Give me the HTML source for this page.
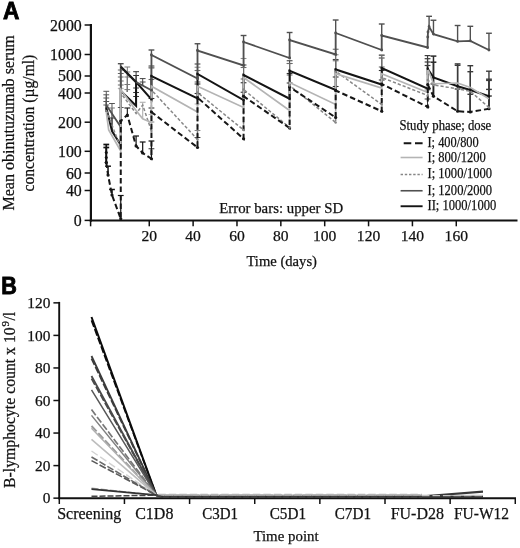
<!DOCTYPE html>
<html><head><meta charset="utf-8"><title>Figure</title>
<style>html,body{margin:0;padding:0;background:#fff;}body{width:520px;height:548px;overflow:hidden;font-family:"Liberation Serif",serif;}svg{display:block;will-change:transform;opacity:0.999}</style>
</head><body>
<svg width="520" height="548" viewBox="0 0 520 548">
<rect width="520" height="548" fill="#fff"/>
<text x="2.9" y="19.0" font-family='"Liberation Sans", sans-serif' font-size="24.8" font-weight="bold" text-anchor="start" fill="#000" stroke="#000" stroke-width="0.9" textLength="16.4" lengthAdjust="spacingAndGlyphs">A</text>
<text transform="translate(14.0,122.9) rotate(-90)" font-family='"Liberation Serif", serif' font-size="16" text-anchor="middle" fill="#111" stroke="#111" stroke-width="0.25" textLength="175.4" lengthAdjust="spacingAndGlyphs">Mean obinutuzumab serum</text>
<text transform="translate(34.4,123.1) rotate(-90)" font-family='"Liberation Serif", serif' font-size="16" text-anchor="middle" fill="#111" stroke="#111" stroke-width="0.25" textLength="136.8" lengthAdjust="spacingAndGlyphs">concentration (µg/ml)</text>
<line x1="90.89999999999999" y1="24.0" x2="90.89999999999999" y2="221.6" stroke="#111" stroke-width="2.2" stroke-linecap="butt"/>
<line x1="89.8" y1="220.6" x2="517.5" y2="220.6" stroke="#111" stroke-width="2.0" stroke-linecap="butt"/>
<line x1="84.6" y1="25" x2="90.6" y2="25" stroke="#111" stroke-width="1.5" stroke-linecap="butt"/>
<text x="81.8" y="30.6" font-family='"Liberation Serif", serif' font-size="15.9" font-weight="normal" text-anchor="end" fill="#111" stroke="#111" stroke-width="0.25">2000</text>
<line x1="84.6" y1="54.5" x2="90.6" y2="54.5" stroke="#111" stroke-width="1.5" stroke-linecap="butt"/>
<text x="81.8" y="60.1" font-family='"Liberation Serif", serif' font-size="15.9" font-weight="normal" text-anchor="end" fill="#111" stroke="#111" stroke-width="0.25">1000</text>
<line x1="84.6" y1="76" x2="90.6" y2="76" stroke="#111" stroke-width="1.5" stroke-linecap="butt"/>
<text x="81.8" y="80.8" font-family='"Liberation Serif", serif' font-size="15.9" font-weight="normal" text-anchor="end" fill="#111" stroke="#111" stroke-width="0.25">500</text>
<line x1="84.6" y1="93" x2="90.6" y2="93" stroke="#111" stroke-width="1.5" stroke-linecap="butt"/>
<text x="81.8" y="98.6" font-family='"Liberation Serif", serif' font-size="15.9" font-weight="normal" text-anchor="end" fill="#111" stroke="#111" stroke-width="0.25">400</text>
<line x1="84.6" y1="122.2" x2="90.6" y2="122.2" stroke="#111" stroke-width="1.5" stroke-linecap="butt"/>
<text x="81.8" y="127.8" font-family='"Liberation Serif", serif' font-size="15.9" font-weight="normal" text-anchor="end" fill="#111" stroke="#111" stroke-width="0.25">200</text>
<line x1="84.6" y1="151.3" x2="90.6" y2="151.3" stroke="#111" stroke-width="1.5" stroke-linecap="butt"/>
<text x="81.8" y="156.9" font-family='"Liberation Serif", serif' font-size="15.9" font-weight="normal" text-anchor="end" fill="#111" stroke="#111" stroke-width="0.25">100</text>
<line x1="84.6" y1="173" x2="90.6" y2="173" stroke="#111" stroke-width="1.5" stroke-linecap="butt"/>
<text x="81.8" y="178.6" font-family='"Liberation Serif", serif' font-size="15.9" font-weight="normal" text-anchor="end" fill="#111" stroke="#111" stroke-width="0.25">60</text>
<line x1="84.6" y1="190.5" x2="90.6" y2="190.5" stroke="#111" stroke-width="1.5" stroke-linecap="butt"/>
<text x="81.8" y="196.1" font-family='"Liberation Serif", serif' font-size="15.9" font-weight="normal" text-anchor="end" fill="#111" stroke="#111" stroke-width="0.25">40</text>
<line x1="84.6" y1="220.4" x2="90.6" y2="220.4" stroke="#111" stroke-width="1.5" stroke-linecap="butt"/>
<text x="81.8" y="226.0" font-family='"Liberation Serif", serif' font-size="15.9" font-weight="normal" text-anchor="end" fill="#111" stroke="#111" stroke-width="0.25">0</text>
<line x1="90.6" y1="220.6" x2="90.6" y2="226.3" stroke="#111" stroke-width="1.5" stroke-linecap="butt"/>
<line x1="149.26" y1="220.6" x2="149.26" y2="226.3" stroke="#111" stroke-width="1.5" stroke-linecap="butt"/>
<text x="149.26" y="241.2" font-family='"Liberation Serif", serif' font-size="15.6" font-weight="normal" text-anchor="middle" fill="#111" stroke="#111" stroke-width="0.25">20</text>
<line x1="193.12" y1="220.6" x2="193.12" y2="226.3" stroke="#111" stroke-width="1.5" stroke-linecap="butt"/>
<text x="193.12" y="241.2" font-family='"Liberation Serif", serif' font-size="15.6" font-weight="normal" text-anchor="middle" fill="#111" stroke="#111" stroke-width="0.25">40</text>
<line x1="236.98" y1="220.6" x2="236.98" y2="226.3" stroke="#111" stroke-width="1.5" stroke-linecap="butt"/>
<text x="236.98" y="241.2" font-family='"Liberation Serif", serif' font-size="15.6" font-weight="normal" text-anchor="middle" fill="#111" stroke="#111" stroke-width="0.25">60</text>
<line x1="280.84" y1="220.6" x2="280.84" y2="226.3" stroke="#111" stroke-width="1.5" stroke-linecap="butt"/>
<text x="280.84" y="241.2" font-family='"Liberation Serif", serif' font-size="15.6" font-weight="normal" text-anchor="middle" fill="#111" stroke="#111" stroke-width="0.25">80</text>
<line x1="324.7" y1="220.6" x2="324.7" y2="226.3" stroke="#111" stroke-width="1.5" stroke-linecap="butt"/>
<text x="324.7" y="241.2" font-family='"Liberation Serif", serif' font-size="15.6" font-weight="normal" text-anchor="middle" fill="#111" stroke="#111" stroke-width="0.25">100</text>
<line x1="368.56" y1="220.6" x2="368.56" y2="226.3" stroke="#111" stroke-width="1.5" stroke-linecap="butt"/>
<text x="368.56" y="241.2" font-family='"Liberation Serif", serif' font-size="15.6" font-weight="normal" text-anchor="middle" fill="#111" stroke="#111" stroke-width="0.25">120</text>
<line x1="412.42" y1="220.6" x2="412.42" y2="226.3" stroke="#111" stroke-width="1.5" stroke-linecap="butt"/>
<text x="412.42" y="241.2" font-family='"Liberation Serif", serif' font-size="15.6" font-weight="normal" text-anchor="middle" fill="#111" stroke="#111" stroke-width="0.25">140</text>
<line x1="456.28" y1="220.6" x2="456.28" y2="226.3" stroke="#111" stroke-width="1.5" stroke-linecap="butt"/>
<text x="456.28" y="241.2" font-family='"Liberation Serif", serif' font-size="15.6" font-weight="normal" text-anchor="middle" fill="#111" stroke="#111" stroke-width="0.25">160</text>
<text x="219.2" y="212.5" font-family='"Liberation Serif", serif' font-size="15.3" font-weight="normal" text-anchor="start" fill="#111" stroke="#111" stroke-width="0.25" textLength="124" lengthAdjust="spacingAndGlyphs">Error bars: upper SD</text>
<text x="246.4" y="266.0" font-family='"Liberation Serif", serif' font-size="15.3" font-weight="normal" text-anchor="start" fill="#111" stroke="#111" stroke-width="0.25" textLength="70.6" lengthAdjust="spacingAndGlyphs">Time (days)</text>
<line x1="120.75" y1="66.5" x2="120.75" y2="63.7" stroke="#505050" stroke-width="1.4" stroke-linecap="butt"/>
<line x1="117.85" y1="63.7" x2="123.65" y2="63.7" stroke="#505050" stroke-width="1.4" stroke-linecap="butt"/>
<line x1="151.45" y1="55" x2="151.45" y2="50" stroke="#505050" stroke-width="1.4" stroke-linecap="butt"/>
<line x1="148.54999999999998" y1="50" x2="154.35" y2="50" stroke="#505050" stroke-width="1.4" stroke-linecap="butt"/>
<line x1="197.51" y1="50.5" x2="197.51" y2="43.75" stroke="#505050" stroke-width="1.4" stroke-linecap="butt"/>
<line x1="194.60999999999999" y1="43.75" x2="200.41" y2="43.75" stroke="#505050" stroke-width="1.4" stroke-linecap="butt"/>
<line x1="243.56" y1="42" x2="243.56" y2="35.5" stroke="#505050" stroke-width="1.4" stroke-linecap="butt"/>
<line x1="240.66" y1="35.5" x2="246.46" y2="35.5" stroke="#505050" stroke-width="1.4" stroke-linecap="butt"/>
<line x1="289.61" y1="40" x2="289.61" y2="32.5" stroke="#505050" stroke-width="1.4" stroke-linecap="butt"/>
<line x1="286.71000000000004" y1="32.5" x2="292.51" y2="32.5" stroke="#505050" stroke-width="1.4" stroke-linecap="butt"/>
<line x1="335.67" y1="33" x2="335.67" y2="20" stroke="#505050" stroke-width="1.4" stroke-linecap="butt"/>
<line x1="332.77000000000004" y1="20" x2="338.57" y2="20" stroke="#505050" stroke-width="1.4" stroke-linecap="butt"/>
<line x1="381.72" y1="35.5" x2="381.72" y2="24" stroke="#505050" stroke-width="1.4" stroke-linecap="butt"/>
<line x1="378.82000000000005" y1="24" x2="384.62" y2="24" stroke="#505050" stroke-width="1.4" stroke-linecap="butt"/>
<line x1="429.09" y1="26.7" x2="429.09" y2="16.3" stroke="#505050" stroke-width="1.4" stroke-linecap="butt"/>
<line x1="426.19" y1="16.3" x2="431.98999999999995" y2="16.3" stroke="#505050" stroke-width="1.4" stroke-linecap="butt"/>
<line x1="433.47" y1="34.1" x2="433.47" y2="20.25" stroke="#505050" stroke-width="1.4" stroke-linecap="butt"/>
<line x1="430.57000000000005" y1="20.25" x2="436.37" y2="20.25" stroke="#505050" stroke-width="1.4" stroke-linecap="butt"/>
<line x1="457.6" y1="41.4" x2="457.6" y2="25.5" stroke="#505050" stroke-width="1.4" stroke-linecap="butt"/>
<line x1="454.70000000000005" y1="25.5" x2="460.5" y2="25.5" stroke="#505050" stroke-width="1.4" stroke-linecap="butt"/>
<line x1="470.32" y1="40.9" x2="470.32" y2="26.3" stroke="#505050" stroke-width="1.4" stroke-linecap="butt"/>
<line x1="467.42" y1="26.3" x2="473.21999999999997" y2="26.3" stroke="#505050" stroke-width="1.4" stroke-linecap="butt"/>
<line x1="488.96" y1="50" x2="488.96" y2="33.25" stroke="#505050" stroke-width="1.4" stroke-linecap="butt"/>
<line x1="486.06" y1="33.25" x2="491.85999999999996" y2="33.25" stroke="#505050" stroke-width="1.4" stroke-linecap="butt"/>
<line x1="151.45" y1="76" x2="151.45" y2="66" stroke="#444" stroke-width="1.1" stroke-linecap="butt"/>
<line x1="148.54999999999998" y1="66" x2="154.35" y2="66" stroke="#444" stroke-width="1.1" stroke-linecap="butt"/>
<line x1="151.45" y1="86.25" x2="151.45" y2="67.25" stroke="#8c8c8c" stroke-width="1.1" stroke-linecap="butt"/>
<line x1="148.54999999999998" y1="67.25" x2="154.35" y2="67.25" stroke="#8c8c8c" stroke-width="1.1" stroke-linecap="butt"/>
<line x1="151.45" y1="90" x2="151.45" y2="68" stroke="#6a6a6a" stroke-width="1.1" stroke-linecap="butt"/>
<line x1="148.54999999999998" y1="68" x2="154.35" y2="68" stroke="#6a6a6a" stroke-width="1.1" stroke-linecap="butt"/>
<line x1="151.45" y1="90" x2="151.45" y2="79.5" stroke="#6a6a6a" stroke-width="1.1" stroke-linecap="butt"/>
<line x1="148.54999999999998" y1="79.5" x2="154.35" y2="79.5" stroke="#6a6a6a" stroke-width="1.1" stroke-linecap="butt"/>
<line x1="151.45" y1="112" x2="151.45" y2="98.5" stroke="#333" stroke-width="1.1" stroke-linecap="butt"/>
<line x1="148.54999999999998" y1="98.5" x2="154.35" y2="98.5" stroke="#333" stroke-width="1.1" stroke-linecap="butt"/>
<line x1="151.45" y1="112" x2="151.45" y2="108" stroke="#333" stroke-width="1.1" stroke-linecap="butt"/>
<line x1="148.54999999999998" y1="108" x2="154.35" y2="108" stroke="#333" stroke-width="1.1" stroke-linecap="butt"/>
<line x1="151.45" y1="131" x2="151.45" y2="122" stroke="#868686" stroke-width="1.0" stroke-linecap="butt"/>
<line x1="148.54999999999998" y1="122" x2="154.35" y2="122" stroke="#868686" stroke-width="1.0" stroke-linecap="butt"/>
<line x1="151.45" y1="158.75" x2="151.45" y2="148.75" stroke="#333" stroke-width="1.0" stroke-linecap="butt"/>
<line x1="148.54999999999998" y1="148.75" x2="154.35" y2="148.75" stroke="#333" stroke-width="1.0" stroke-linecap="butt"/>
<line x1="151.45" y1="122.5" x2="151.45" y2="114.5" stroke="#b4b4b4" stroke-width="1.0" stroke-linecap="butt"/>
<line x1="148.54999999999998" y1="114.5" x2="154.35" y2="114.5" stroke="#b4b4b4" stroke-width="1.0" stroke-linecap="butt"/>
<line x1="197.51" y1="74" x2="197.51" y2="64" stroke="#444" stroke-width="1.1" stroke-linecap="butt"/>
<line x1="194.60999999999999" y1="64" x2="200.41" y2="64" stroke="#444" stroke-width="1.1" stroke-linecap="butt"/>
<line x1="197.51" y1="86.25" x2="197.51" y2="67.25" stroke="#8c8c8c" stroke-width="1.1" stroke-linecap="butt"/>
<line x1="194.60999999999999" y1="67.25" x2="200.41" y2="67.25" stroke="#8c8c8c" stroke-width="1.1" stroke-linecap="butt"/>
<line x1="197.51" y1="92.5" x2="197.51" y2="70.5" stroke="#6a6a6a" stroke-width="1.1" stroke-linecap="butt"/>
<line x1="194.60999999999999" y1="70.5" x2="200.41" y2="70.5" stroke="#6a6a6a" stroke-width="1.1" stroke-linecap="butt"/>
<line x1="197.51" y1="92.5" x2="197.51" y2="82.0" stroke="#6a6a6a" stroke-width="1.1" stroke-linecap="butt"/>
<line x1="194.60999999999999" y1="82.0" x2="200.41" y2="82.0" stroke="#6a6a6a" stroke-width="1.1" stroke-linecap="butt"/>
<line x1="197.51" y1="97.5" x2="197.51" y2="84.0" stroke="#333" stroke-width="1.1" stroke-linecap="butt"/>
<line x1="194.60999999999999" y1="84.0" x2="200.41" y2="84.0" stroke="#333" stroke-width="1.1" stroke-linecap="butt"/>
<line x1="197.51" y1="97.5" x2="197.51" y2="93.5" stroke="#333" stroke-width="1.1" stroke-linecap="butt"/>
<line x1="194.60999999999999" y1="93.5" x2="200.41" y2="93.5" stroke="#333" stroke-width="1.1" stroke-linecap="butt"/>
<line x1="197.51" y1="139.5" x2="197.51" y2="130.5" stroke="#868686" stroke-width="1.0" stroke-linecap="butt"/>
<line x1="194.60999999999999" y1="130.5" x2="200.41" y2="130.5" stroke="#868686" stroke-width="1.0" stroke-linecap="butt"/>
<line x1="197.51" y1="147.5" x2="197.51" y2="137.5" stroke="#333" stroke-width="1.0" stroke-linecap="butt"/>
<line x1="194.60999999999999" y1="137.5" x2="200.41" y2="137.5" stroke="#333" stroke-width="1.0" stroke-linecap="butt"/>
<line x1="197.51" y1="112" x2="197.51" y2="104" stroke="#b4b4b4" stroke-width="1.0" stroke-linecap="butt"/>
<line x1="194.60999999999999" y1="104" x2="200.41" y2="104" stroke="#b4b4b4" stroke-width="1.0" stroke-linecap="butt"/>
<line x1="243.56" y1="75" x2="243.56" y2="65" stroke="#444" stroke-width="1.1" stroke-linecap="butt"/>
<line x1="240.66" y1="65" x2="246.46" y2="65" stroke="#444" stroke-width="1.1" stroke-linecap="butt"/>
<line x1="243.56" y1="77.5" x2="243.56" y2="58.5" stroke="#8c8c8c" stroke-width="1.1" stroke-linecap="butt"/>
<line x1="240.66" y1="58.5" x2="246.46" y2="58.5" stroke="#8c8c8c" stroke-width="1.1" stroke-linecap="butt"/>
<line x1="243.56" y1="89.5" x2="243.56" y2="67.5" stroke="#6a6a6a" stroke-width="1.1" stroke-linecap="butt"/>
<line x1="240.66" y1="67.5" x2="246.46" y2="67.5" stroke="#6a6a6a" stroke-width="1.1" stroke-linecap="butt"/>
<line x1="243.56" y1="89.5" x2="243.56" y2="79.0" stroke="#6a6a6a" stroke-width="1.1" stroke-linecap="butt"/>
<line x1="240.66" y1="79.0" x2="246.46" y2="79.0" stroke="#6a6a6a" stroke-width="1.1" stroke-linecap="butt"/>
<line x1="243.56" y1="96.25" x2="243.56" y2="82.75" stroke="#333" stroke-width="1.1" stroke-linecap="butt"/>
<line x1="240.66" y1="82.75" x2="246.46" y2="82.75" stroke="#333" stroke-width="1.1" stroke-linecap="butt"/>
<line x1="243.56" y1="96.25" x2="243.56" y2="92.25" stroke="#333" stroke-width="1.1" stroke-linecap="butt"/>
<line x1="240.66" y1="92.25" x2="246.46" y2="92.25" stroke="#333" stroke-width="1.1" stroke-linecap="butt"/>
<line x1="289.61" y1="70.75" x2="289.61" y2="60.75" stroke="#444" stroke-width="1.1" stroke-linecap="butt"/>
<line x1="286.71000000000004" y1="60.75" x2="292.51" y2="60.75" stroke="#444" stroke-width="1.1" stroke-linecap="butt"/>
<line x1="289.61" y1="82.5" x2="289.61" y2="63.5" stroke="#8c8c8c" stroke-width="1.1" stroke-linecap="butt"/>
<line x1="286.71000000000004" y1="63.5" x2="292.51" y2="63.5" stroke="#8c8c8c" stroke-width="1.1" stroke-linecap="butt"/>
<line x1="289.61" y1="85.5" x2="289.61" y2="63.5" stroke="#6a6a6a" stroke-width="1.1" stroke-linecap="butt"/>
<line x1="286.71000000000004" y1="63.5" x2="292.51" y2="63.5" stroke="#6a6a6a" stroke-width="1.1" stroke-linecap="butt"/>
<line x1="289.61" y1="85.5" x2="289.61" y2="75.0" stroke="#6a6a6a" stroke-width="1.1" stroke-linecap="butt"/>
<line x1="286.71000000000004" y1="75.0" x2="292.51" y2="75.0" stroke="#6a6a6a" stroke-width="1.1" stroke-linecap="butt"/>
<line x1="289.61" y1="87" x2="289.61" y2="73.5" stroke="#333" stroke-width="1.1" stroke-linecap="butt"/>
<line x1="286.71000000000004" y1="73.5" x2="292.51" y2="73.5" stroke="#333" stroke-width="1.1" stroke-linecap="butt"/>
<line x1="289.61" y1="87" x2="289.61" y2="83" stroke="#333" stroke-width="1.1" stroke-linecap="butt"/>
<line x1="286.71000000000004" y1="83" x2="292.51" y2="83" stroke="#333" stroke-width="1.1" stroke-linecap="butt"/>
<line x1="335.67" y1="69.5" x2="335.67" y2="59.5" stroke="#444" stroke-width="1.1" stroke-linecap="butt"/>
<line x1="332.77000000000004" y1="59.5" x2="338.57" y2="59.5" stroke="#444" stroke-width="1.1" stroke-linecap="butt"/>
<line x1="335.67" y1="73.75" x2="335.67" y2="54.75" stroke="#8c8c8c" stroke-width="1.1" stroke-linecap="butt"/>
<line x1="332.77000000000004" y1="54.75" x2="338.57" y2="54.75" stroke="#8c8c8c" stroke-width="1.1" stroke-linecap="butt"/>
<line x1="335.67" y1="71.25" x2="335.67" y2="49.25" stroke="#6a6a6a" stroke-width="1.1" stroke-linecap="butt"/>
<line x1="332.77000000000004" y1="49.25" x2="338.57" y2="49.25" stroke="#6a6a6a" stroke-width="1.1" stroke-linecap="butt"/>
<line x1="335.67" y1="71.25" x2="335.67" y2="60.75" stroke="#6a6a6a" stroke-width="1.1" stroke-linecap="butt"/>
<line x1="332.77000000000004" y1="60.75" x2="338.57" y2="60.75" stroke="#6a6a6a" stroke-width="1.1" stroke-linecap="butt"/>
<line x1="335.67" y1="90.5" x2="335.67" y2="77.0" stroke="#333" stroke-width="1.1" stroke-linecap="butt"/>
<line x1="332.77000000000004" y1="77.0" x2="338.57" y2="77.0" stroke="#333" stroke-width="1.1" stroke-linecap="butt"/>
<line x1="335.67" y1="90.5" x2="335.67" y2="86.5" stroke="#333" stroke-width="1.1" stroke-linecap="butt"/>
<line x1="332.77000000000004" y1="86.5" x2="338.57" y2="86.5" stroke="#333" stroke-width="1.1" stroke-linecap="butt"/>
<line x1="381.72" y1="68" x2="381.72" y2="58" stroke="#444" stroke-width="1.1" stroke-linecap="butt"/>
<line x1="378.82000000000005" y1="58" x2="384.62" y2="58" stroke="#444" stroke-width="1.1" stroke-linecap="butt"/>
<line x1="381.72" y1="73.75" x2="381.72" y2="54.75" stroke="#8c8c8c" stroke-width="1.1" stroke-linecap="butt"/>
<line x1="378.82000000000005" y1="54.75" x2="384.62" y2="54.75" stroke="#8c8c8c" stroke-width="1.1" stroke-linecap="butt"/>
<line x1="381.72" y1="77.5" x2="381.72" y2="55.5" stroke="#6a6a6a" stroke-width="1.1" stroke-linecap="butt"/>
<line x1="378.82000000000005" y1="55.5" x2="384.62" y2="55.5" stroke="#6a6a6a" stroke-width="1.1" stroke-linecap="butt"/>
<line x1="381.72" y1="77.5" x2="381.72" y2="67.0" stroke="#6a6a6a" stroke-width="1.1" stroke-linecap="butt"/>
<line x1="378.82000000000005" y1="67.0" x2="384.62" y2="67.0" stroke="#6a6a6a" stroke-width="1.1" stroke-linecap="butt"/>
<line x1="381.72" y1="84" x2="381.72" y2="70.5" stroke="#333" stroke-width="1.1" stroke-linecap="butt"/>
<line x1="378.82000000000005" y1="70.5" x2="384.62" y2="70.5" stroke="#333" stroke-width="1.1" stroke-linecap="butt"/>
<line x1="381.72" y1="84" x2="381.72" y2="80" stroke="#333" stroke-width="1.1" stroke-linecap="butt"/>
<line x1="378.82000000000005" y1="80" x2="384.62" y2="80" stroke="#333" stroke-width="1.1" stroke-linecap="butt"/>
<line x1="106.28" y1="112" x2="106.28" y2="91.3" stroke="#555" stroke-width="1.0" stroke-linecap="butt"/>
<line x1="103.38" y1="91.3" x2="109.18" y2="91.3" stroke="#555" stroke-width="1.0" stroke-linecap="butt"/>
<line x1="106.28" y1="112" x2="106.28" y2="94.8" stroke="#555" stroke-width="1.0" stroke-linecap="butt"/>
<line x1="103.38" y1="94.8" x2="109.18" y2="94.8" stroke="#555" stroke-width="1.0" stroke-linecap="butt"/>
<line x1="106.28" y1="112" x2="106.28" y2="98" stroke="#555" stroke-width="1.0" stroke-linecap="butt"/>
<line x1="103.38" y1="98" x2="109.18" y2="98" stroke="#555" stroke-width="1.0" stroke-linecap="butt"/>
<line x1="106.28" y1="112" x2="106.28" y2="101.5" stroke="#555" stroke-width="1.0" stroke-linecap="butt"/>
<line x1="103.38" y1="101.5" x2="109.18" y2="101.5" stroke="#555" stroke-width="1.0" stroke-linecap="butt"/>
<line x1="106.28" y1="112" x2="106.28" y2="105" stroke="#555" stroke-width="1.0" stroke-linecap="butt"/>
<line x1="103.38" y1="105" x2="109.18" y2="105" stroke="#555" stroke-width="1.0" stroke-linecap="butt"/>
<line x1="106.28" y1="162.5" x2="106.28" y2="144.5" stroke="#111" stroke-width="1.7" stroke-linecap="butt"/>
<line x1="103.38" y1="144.5" x2="109.18" y2="144.5" stroke="#111" stroke-width="1.7" stroke-linecap="butt"/>
<line x1="106.28" y1="162.5" x2="106.28" y2="147.5" stroke="#111" stroke-width="1.7" stroke-linecap="butt"/>
<line x1="103.38" y1="147.5" x2="109.18" y2="147.5" stroke="#111" stroke-width="1.7" stroke-linecap="butt"/>
<circle cx="106.28" cy="152.5" r="1.5" fill="#111"/>
<circle cx="106.28" cy="157.5" r="1.5" fill="#111"/>
<circle cx="106.28" cy="162.5" r="1.5" fill="#111"/>
<line x1="111.98" y1="131" x2="111.98" y2="103.5" stroke="#555" stroke-width="1.0" stroke-linecap="butt"/>
<line x1="109.08" y1="103.5" x2="114.88000000000001" y2="103.5" stroke="#555" stroke-width="1.0" stroke-linecap="butt"/>
<line x1="111.98" y1="131" x2="111.98" y2="108" stroke="#777" stroke-width="1.0" stroke-linecap="butt"/>
<line x1="109.08" y1="108" x2="114.88000000000001" y2="108" stroke="#777" stroke-width="1.0" stroke-linecap="butt"/>
<line x1="111.98" y1="131" x2="111.98" y2="118" stroke="#333" stroke-width="1.0" stroke-linecap="butt"/>
<line x1="109.08" y1="118" x2="114.88000000000001" y2="118" stroke="#333" stroke-width="1.0" stroke-linecap="butt"/>
<line x1="108.03" y1="175" x2="108.03" y2="166.2" stroke="#111" stroke-width="1.5" stroke-linecap="butt"/>
<line x1="105.13" y1="166.2" x2="110.93" y2="166.2" stroke="#111" stroke-width="1.5" stroke-linecap="butt"/>
<line x1="111.98" y1="195" x2="111.98" y2="189.5" stroke="#111" stroke-width="1.5" stroke-linecap="butt"/>
<line x1="109.08" y1="189.5" x2="114.88000000000001" y2="189.5" stroke="#111" stroke-width="1.5" stroke-linecap="butt"/>
<line x1="120.75" y1="218.75" x2="120.75" y2="195.5" stroke="#111" stroke-width="1.2" stroke-linecap="butt"/>
<line x1="117.85" y1="195.5" x2="123.65" y2="195.5" stroke="#111" stroke-width="1.2" stroke-linecap="butt"/>
<line x1="120.75" y1="93" x2="120.75" y2="70" stroke="#666" stroke-width="1.0" stroke-linecap="butt"/>
<line x1="117.85" y1="70" x2="123.65" y2="70" stroke="#666" stroke-width="1.0" stroke-linecap="butt"/>
<line x1="120.75" y1="93" x2="120.75" y2="73.5" stroke="#666" stroke-width="1.0" stroke-linecap="butt"/>
<line x1="117.85" y1="73.5" x2="123.65" y2="73.5" stroke="#666" stroke-width="1.0" stroke-linecap="butt"/>
<line x1="120.75" y1="93" x2="120.75" y2="77" stroke="#666" stroke-width="1.0" stroke-linecap="butt"/>
<line x1="117.85" y1="77" x2="123.65" y2="77" stroke="#666" stroke-width="1.0" stroke-linecap="butt"/>
<line x1="120.75" y1="93" x2="120.75" y2="81" stroke="#666" stroke-width="1.0" stroke-linecap="butt"/>
<line x1="117.85" y1="81" x2="123.65" y2="81" stroke="#666" stroke-width="1.0" stroke-linecap="butt"/>
<line x1="120.75" y1="93" x2="120.75" y2="85" stroke="#666" stroke-width="1.0" stroke-linecap="butt"/>
<line x1="117.85" y1="85" x2="123.65" y2="85" stroke="#666" stroke-width="1.0" stroke-linecap="butt"/>
<line x1="120.75" y1="148" x2="120.75" y2="88.5" stroke="#b4b4b4" stroke-width="1.4" stroke-linecap="butt"/>
<line x1="117.85" y1="88.5" x2="123.65" y2="88.5" stroke="#b4b4b4" stroke-width="1.4" stroke-linecap="butt"/>
<line x1="120.75" y1="121" x2="120.75" y2="107.5" stroke="#555" stroke-width="1.0" stroke-linecap="butt"/>
<line x1="117.85" y1="107.5" x2="123.65" y2="107.5" stroke="#555" stroke-width="1.0" stroke-linecap="butt"/>
<line x1="127.33" y1="92" x2="127.33" y2="67" stroke="#777" stroke-width="1.0" stroke-linecap="butt"/>
<line x1="124.42999999999999" y1="67" x2="130.23" y2="67" stroke="#777" stroke-width="1.0" stroke-linecap="butt"/>
<line x1="127.33" y1="92" x2="127.33" y2="72" stroke="#777" stroke-width="1.0" stroke-linecap="butt"/>
<line x1="124.42999999999999" y1="72" x2="130.23" y2="72" stroke="#777" stroke-width="1.0" stroke-linecap="butt"/>
<line x1="127.33" y1="92" x2="127.33" y2="77" stroke="#777" stroke-width="1.0" stroke-linecap="butt"/>
<line x1="124.42999999999999" y1="77" x2="130.23" y2="77" stroke="#777" stroke-width="1.0" stroke-linecap="butt"/>
<line x1="127.33" y1="92" x2="127.33" y2="84.5" stroke="#777" stroke-width="1.0" stroke-linecap="butt"/>
<line x1="124.42999999999999" y1="84.5" x2="130.23" y2="84.5" stroke="#777" stroke-width="1.0" stroke-linecap="butt"/>
<line x1="127.33" y1="92" x2="127.33" y2="89.6" stroke="#777" stroke-width="1.0" stroke-linecap="butt"/>
<line x1="124.42999999999999" y1="89.6" x2="130.23" y2="89.6" stroke="#777" stroke-width="1.0" stroke-linecap="butt"/>
<line x1="127.33" y1="115" x2="127.33" y2="108" stroke="#111" stroke-width="1.1" stroke-linecap="butt"/>
<line x1="124.42999999999999" y1="108" x2="130.23" y2="108" stroke="#111" stroke-width="1.1" stroke-linecap="butt"/>
<line x1="136.1" y1="105" x2="136.1" y2="71.7" stroke="#333" stroke-width="1.0" stroke-linecap="butt"/>
<line x1="133.2" y1="71.7" x2="139.0" y2="71.7" stroke="#333" stroke-width="1.0" stroke-linecap="butt"/>
<line x1="136.1" y1="105" x2="136.1" y2="75.5" stroke="#333" stroke-width="1.0" stroke-linecap="butt"/>
<line x1="133.2" y1="75.5" x2="139.0" y2="75.5" stroke="#333" stroke-width="1.0" stroke-linecap="butt"/>
<line x1="136.1" y1="105" x2="136.1" y2="88" stroke="#333" stroke-width="1.0" stroke-linecap="butt"/>
<line x1="133.2" y1="88" x2="139.0" y2="88" stroke="#333" stroke-width="1.0" stroke-linecap="butt"/>
<line x1="136.1" y1="105" x2="136.1" y2="92.5" stroke="#333" stroke-width="1.0" stroke-linecap="butt"/>
<line x1="133.2" y1="92.5" x2="139.0" y2="92.5" stroke="#333" stroke-width="1.0" stroke-linecap="butt"/>
<line x1="136.1" y1="105" x2="136.1" y2="96.5" stroke="#333" stroke-width="1.0" stroke-linecap="butt"/>
<line x1="133.2" y1="96.5" x2="139.0" y2="96.5" stroke="#333" stroke-width="1.0" stroke-linecap="butt"/>
<line x1="136.1" y1="146" x2="136.1" y2="136" stroke="#111" stroke-width="1.2" stroke-linecap="butt"/>
<line x1="133.2" y1="136" x2="139.0" y2="136" stroke="#111" stroke-width="1.2" stroke-linecap="butt"/>
<line x1="142.68" y1="86" x2="142.68" y2="78.6" stroke="#444" stroke-width="1.0" stroke-linecap="butt"/>
<line x1="139.78" y1="78.6" x2="145.58" y2="78.6" stroke="#444" stroke-width="1.0" stroke-linecap="butt"/>
<line x1="142.68" y1="86" x2="142.68" y2="82" stroke="#444" stroke-width="1.0" stroke-linecap="butt"/>
<line x1="139.78" y1="82" x2="145.58" y2="82" stroke="#444" stroke-width="1.0" stroke-linecap="butt"/>
<line x1="142.68" y1="118.75" x2="142.68" y2="102.3" stroke="#b4b4b4" stroke-width="1.2" stroke-linecap="butt"/>
<line x1="139.78" y1="102.3" x2="145.58" y2="102.3" stroke="#b4b4b4" stroke-width="1.2" stroke-linecap="butt"/>
<line x1="142.68" y1="153" x2="142.68" y2="142" stroke="#111" stroke-width="1.2" stroke-linecap="butt"/>
<line x1="139.78" y1="142" x2="145.58" y2="142" stroke="#111" stroke-width="1.2" stroke-linecap="butt"/>
<line x1="151.45" y1="158.75" x2="151.45" y2="141" stroke="#111" stroke-width="1.2" stroke-linecap="butt"/>
<line x1="148.54999999999998" y1="141" x2="154.35" y2="141" stroke="#111" stroke-width="1.2" stroke-linecap="butt"/>
<line x1="427.55" y1="75" x2="427.55" y2="55.6" stroke="#3c3c3c" stroke-width="1.2" stroke-linecap="butt"/>
<line x1="424.65000000000003" y1="55.6" x2="430.45" y2="55.6" stroke="#3c3c3c" stroke-width="1.2" stroke-linecap="butt"/>
<line x1="427.55" y1="75" x2="427.55" y2="58.7" stroke="#3c3c3c" stroke-width="1.2" stroke-linecap="butt"/>
<line x1="424.65000000000003" y1="58.7" x2="430.45" y2="58.7" stroke="#3c3c3c" stroke-width="1.2" stroke-linecap="butt"/>
<line x1="427.55" y1="75" x2="427.55" y2="62" stroke="#3c3c3c" stroke-width="1.2" stroke-linecap="butt"/>
<line x1="424.65000000000003" y1="62" x2="430.45" y2="62" stroke="#3c3c3c" stroke-width="1.2" stroke-linecap="butt"/>
<line x1="427.55" y1="75" x2="427.55" y2="65.5" stroke="#3c3c3c" stroke-width="1.2" stroke-linecap="butt"/>
<line x1="424.65000000000003" y1="65.5" x2="430.45" y2="65.5" stroke="#3c3c3c" stroke-width="1.2" stroke-linecap="butt"/>
<line x1="427.55" y1="107" x2="427.55" y2="99" stroke="#333" stroke-width="1.0" stroke-linecap="butt"/>
<line x1="424.65000000000003" y1="99" x2="430.45" y2="99" stroke="#333" stroke-width="1.0" stroke-linecap="butt"/>
<line x1="427.55" y1="95.5" x2="427.55" y2="90" stroke="#888" stroke-width="1.0" stroke-linecap="butt"/>
<line x1="424.65000000000003" y1="90" x2="430.45" y2="90" stroke="#888" stroke-width="1.0" stroke-linecap="butt"/>
<line x1="433.47" y1="96.25" x2="433.47" y2="56.1" stroke="#2a2a2a" stroke-width="1.5" stroke-linecap="butt"/>
<line x1="430.57000000000005" y1="56.1" x2="436.37" y2="56.1" stroke="#2a2a2a" stroke-width="1.5" stroke-linecap="butt"/>
<line x1="433.47" y1="96.25" x2="433.47" y2="62.2" stroke="#2a2a2a" stroke-width="1.5" stroke-linecap="butt"/>
<line x1="430.57000000000005" y1="62.2" x2="436.37" y2="62.2" stroke="#2a2a2a" stroke-width="1.5" stroke-linecap="butt"/>
<line x1="433.47" y1="96.25" x2="433.47" y2="84" stroke="#222" stroke-width="1.1" stroke-linecap="butt"/>
<line x1="430.57000000000005" y1="84" x2="436.37" y2="84" stroke="#222" stroke-width="1.1" stroke-linecap="butt"/>
<line x1="457.6" y1="111.25" x2="457.6" y2="63.9" stroke="#3a3a3a" stroke-width="1.4" stroke-linecap="butt"/>
<line x1="454.70000000000005" y1="63.9" x2="460.5" y2="63.9" stroke="#3a3a3a" stroke-width="1.4" stroke-linecap="butt"/>
<line x1="457.6" y1="111.25" x2="457.6" y2="65.3" stroke="#3a3a3a" stroke-width="1.4" stroke-linecap="butt"/>
<line x1="454.70000000000005" y1="65.3" x2="460.5" y2="65.3" stroke="#3a3a3a" stroke-width="1.4" stroke-linecap="butt"/>
<line x1="457.6" y1="111.25" x2="457.6" y2="89" stroke="#3a3a3a" stroke-width="1.4" stroke-linecap="butt"/>
<line x1="454.70000000000005" y1="89" x2="460.5" y2="89" stroke="#3a3a3a" stroke-width="1.4" stroke-linecap="butt"/>
<line x1="470.32" y1="112" x2="470.32" y2="65.7" stroke="#3a3a3a" stroke-width="1.4" stroke-linecap="butt"/>
<line x1="467.42" y1="65.7" x2="473.21999999999997" y2="65.7" stroke="#3a3a3a" stroke-width="1.4" stroke-linecap="butt"/>
<line x1="470.32" y1="112" x2="470.32" y2="71.7" stroke="#3a3a3a" stroke-width="1.4" stroke-linecap="butt"/>
<line x1="467.42" y1="71.7" x2="473.21999999999997" y2="71.7" stroke="#3a3a3a" stroke-width="1.4" stroke-linecap="butt"/>
<line x1="470.32" y1="112" x2="470.32" y2="89.9" stroke="#3a3a3a" stroke-width="1.4" stroke-linecap="butt"/>
<line x1="467.42" y1="89.9" x2="473.21999999999997" y2="89.9" stroke="#3a3a3a" stroke-width="1.4" stroke-linecap="butt"/>
<line x1="470.32" y1="112" x2="470.32" y2="94.3" stroke="#3a3a3a" stroke-width="1.4" stroke-linecap="butt"/>
<line x1="467.42" y1="94.3" x2="473.21999999999997" y2="94.3" stroke="#3a3a3a" stroke-width="1.4" stroke-linecap="butt"/>
<line x1="488.96" y1="108.75" x2="488.96" y2="71.2" stroke="#3a3a3a" stroke-width="1.4" stroke-linecap="butt"/>
<line x1="486.06" y1="71.2" x2="491.85999999999996" y2="71.2" stroke="#3a3a3a" stroke-width="1.4" stroke-linecap="butt"/>
<line x1="488.96" y1="108.75" x2="488.96" y2="79.2" stroke="#3a3a3a" stroke-width="1.4" stroke-linecap="butt"/>
<line x1="486.06" y1="79.2" x2="491.85999999999996" y2="79.2" stroke="#3a3a3a" stroke-width="1.4" stroke-linecap="butt"/>
<line x1="488.96" y1="108.75" x2="488.96" y2="80.4" stroke="#3a3a3a" stroke-width="1.4" stroke-linecap="butt"/>
<line x1="486.06" y1="80.4" x2="491.85999999999996" y2="80.4" stroke="#3a3a3a" stroke-width="1.4" stroke-linecap="butt"/>
<line x1="488.96" y1="108.75" x2="488.96" y2="89.4" stroke="#3a3a3a" stroke-width="1.4" stroke-linecap="butt"/>
<line x1="486.06" y1="89.4" x2="491.85999999999996" y2="89.4" stroke="#3a3a3a" stroke-width="1.4" stroke-linecap="butt"/>
<line x1="488.96" y1="108.75" x2="488.96" y2="96" stroke="#3a3a3a" stroke-width="1.4" stroke-linecap="butt"/>
<line x1="486.06" y1="96" x2="491.85999999999996" y2="96" stroke="#3a3a3a" stroke-width="1.4" stroke-linecap="butt"/>
<polyline points="106.28,107.5 111.98,131 120.75,145 120.75,90.8 136.1,105.8 136.1,82 151.45,99.4 151.45,76 197.51,98.5 197.51,74 243.56,100 243.56,75 289.61,98.75 289.61,70.75 335.67,90 335.67,69.5 381.72,84.5 381.72,68 427.77,88.75 427.77,68.75 433.47,77.5 457.6,86.25 470.32,90 488.96,96.25" fill="none" stroke="#141414" stroke-width="2.0" stroke-linejoin="miter"/>
<polyline points="106.28,105 120.75,127 120.75,66.5 136.1,82 151.45,90.2 151.45,55 197.51,78.5 197.51,50.5 243.56,65.5 243.56,42 289.61,58 289.61,40 335.67,54.5 335.67,33 381.72,50 381.72,35.5 427.55,47.5 427.77,37 427.99,32 429.09,26.7 433.47,34.1 457.6,41.4 470.32,40.9 488.96,50" fill="none" stroke="#505050" stroke-width="1.85" stroke-linejoin="miter"/>
<polyline points="120.75,66.8 136.1,82.3" fill="none" stroke="#1c1c1c" stroke-width="2.2" stroke-linejoin="miter"/>
<polyline points="106.28,110 120.75,148 120.75,93 136.1,113.5 142.68,105 151.45,131 151.45,90 197.51,139.5 197.51,92.5 243.56,130 243.56,89.5 289.61,127.5 289.61,85.5 335.67,122.5 335.67,71.25 381.72,104.5 381.72,77.5 427.77,95.5 427.77,80 433.47,85 457.6,88.75 470.32,91.25 488.96,107.5" fill="none" stroke="#868686" stroke-width="1.5" stroke-dasharray="3.2,2" stroke-linejoin="miter"/>
<polyline points="106.28,112 108.69,130 120.75,151 120.75,89.5 136.1,110.5 142.68,118.75 151.45,122.5 151.45,86.25 197.51,112 197.51,86.25 243.56,107.5 243.56,77.5 289.61,110.5 289.61,82.5 335.67,104.5 335.67,73.75 381.72,88 381.72,73.75 427.77,92.5 427.77,68.75 433.47,83.75 457.6,83 470.32,87.5 488.96,98.75" fill="none" stroke="#b4b4b4" stroke-width="1.7" stroke-linejoin="miter"/>
<polyline points="106.28,162.5 108.03,175 111.98,195 120.75,218.75 120.75,121 127.33,115 136.1,146 142.68,153 151.45,158.75 151.45,112 197.51,147.5 197.51,97.5 243.56,138.75 243.56,96.25 289.61,128 289.61,87 335.67,117.5 335.67,90.5 381.72,111.25 381.72,84 427.77,107 427.77,84.5 433.47,96.25 457.6,111.25 470.32,112 488.96,108.75" fill="none" stroke="#161616" stroke-width="2.0" stroke-dasharray="5.5,3.0" stroke-linejoin="miter"/>
<circle cx="106.28" cy="162.5" r="1.6" fill="#161616"/>
<circle cx="108.03" cy="175" r="1.6" fill="#161616"/>
<circle cx="111.98" cy="195" r="1.6" fill="#161616"/>
<circle cx="120.75" cy="218.75" r="1.6" fill="#161616"/>
<circle cx="120.75" cy="121" r="1.6" fill="#161616"/>
<circle cx="127.33" cy="115" r="1.6" fill="#161616"/>
<circle cx="136.1" cy="146" r="1.6" fill="#161616"/>
<circle cx="142.68" cy="153" r="1.6" fill="#161616"/>
<circle cx="151.45" cy="158.75" r="1.6" fill="#161616"/>
<circle cx="151.45" cy="112" r="1.6" fill="#161616"/>
<circle cx="197.51" cy="147.5" r="1.6" fill="#161616"/>
<circle cx="197.51" cy="97.5" r="1.6" fill="#161616"/>
<circle cx="243.56" cy="138.75" r="1.6" fill="#161616"/>
<circle cx="243.56" cy="96.25" r="1.6" fill="#161616"/>
<circle cx="289.61" cy="128" r="1.6" fill="#161616"/>
<circle cx="289.61" cy="87" r="1.6" fill="#161616"/>
<circle cx="335.67" cy="117.5" r="1.6" fill="#161616"/>
<circle cx="335.67" cy="90.5" r="1.6" fill="#161616"/>
<circle cx="381.72" cy="111.25" r="1.6" fill="#161616"/>
<circle cx="381.72" cy="84" r="1.6" fill="#161616"/>
<circle cx="427.77" cy="107" r="1.6" fill="#161616"/>
<circle cx="427.77" cy="84.5" r="1.6" fill="#161616"/>
<circle cx="433.47" cy="96.25" r="1.6" fill="#161616"/>
<circle cx="457.6" cy="111.25" r="1.6" fill="#161616"/>
<circle cx="470.32" cy="112" r="1.6" fill="#161616"/>
<circle cx="488.96" cy="108.75" r="1.6" fill="#161616"/>
<circle cx="151.45" cy="131" r="1.2" fill="#868686"/>
<circle cx="151.45" cy="90" r="1.2" fill="#868686"/>
<circle cx="197.51" cy="139.5" r="1.2" fill="#868686"/>
<circle cx="197.51" cy="92.5" r="1.2" fill="#868686"/>
<circle cx="243.56" cy="130" r="1.2" fill="#868686"/>
<circle cx="243.56" cy="89.5" r="1.2" fill="#868686"/>
<circle cx="289.61" cy="127.5" r="1.2" fill="#868686"/>
<circle cx="289.61" cy="85.5" r="1.2" fill="#868686"/>
<circle cx="335.67" cy="122.5" r="1.2" fill="#868686"/>
<circle cx="335.67" cy="71.25" r="1.2" fill="#868686"/>
<circle cx="381.72" cy="104.5" r="1.2" fill="#868686"/>
<circle cx="381.72" cy="77.5" r="1.2" fill="#868686"/>
<circle cx="427.77" cy="95.5" r="1.2" fill="#868686"/>
<circle cx="427.77" cy="80" r="1.2" fill="#868686"/>
<circle cx="433.47" cy="85" r="1.2" fill="#868686"/>
<circle cx="457.6" cy="88.75" r="1.2" fill="#868686"/>
<circle cx="470.32" cy="91.25" r="1.2" fill="#868686"/>
<circle cx="488.96" cy="107.5" r="1.2" fill="#868686"/>
<circle cx="151.45" cy="90.2" r="1.4" fill="#505050"/>
<circle cx="151.45" cy="55" r="1.4" fill="#505050"/>
<circle cx="197.51" cy="78.5" r="1.4" fill="#505050"/>
<circle cx="197.51" cy="50.5" r="1.4" fill="#505050"/>
<circle cx="243.56" cy="65.5" r="1.4" fill="#505050"/>
<circle cx="243.56" cy="42" r="1.4" fill="#505050"/>
<circle cx="289.61" cy="58" r="1.4" fill="#505050"/>
<circle cx="289.61" cy="40" r="1.4" fill="#505050"/>
<circle cx="335.67" cy="54.5" r="1.4" fill="#505050"/>
<circle cx="335.67" cy="33" r="1.4" fill="#505050"/>
<circle cx="381.72" cy="50" r="1.4" fill="#505050"/>
<circle cx="381.72" cy="35.5" r="1.4" fill="#505050"/>
<circle cx="427.55" cy="47.5" r="1.4" fill="#505050"/>
<circle cx="427.77" cy="37" r="1.4" fill="#505050"/>
<circle cx="427.99" cy="32" r="1.4" fill="#505050"/>
<circle cx="429.09" cy="26.7" r="1.4" fill="#505050"/>
<circle cx="433.47" cy="34.1" r="1.4" fill="#505050"/>
<circle cx="457.6" cy="41.4" r="1.4" fill="#505050"/>
<circle cx="470.32" cy="40.9" r="1.4" fill="#505050"/>
<circle cx="488.96" cy="50" r="1.4" fill="#505050"/>
<circle cx="151.45" cy="99.4" r="1.2" fill="#141414"/>
<circle cx="151.45" cy="76" r="1.2" fill="#141414"/>
<circle cx="197.51" cy="98.5" r="1.2" fill="#141414"/>
<circle cx="197.51" cy="74" r="1.2" fill="#141414"/>
<circle cx="243.56" cy="100" r="1.2" fill="#141414"/>
<circle cx="243.56" cy="75" r="1.2" fill="#141414"/>
<circle cx="289.61" cy="98.75" r="1.2" fill="#141414"/>
<circle cx="289.61" cy="70.75" r="1.2" fill="#141414"/>
<circle cx="335.67" cy="90" r="1.2" fill="#141414"/>
<circle cx="335.67" cy="69.5" r="1.2" fill="#141414"/>
<circle cx="381.72" cy="84.5" r="1.2" fill="#141414"/>
<circle cx="381.72" cy="68" r="1.2" fill="#141414"/>
<circle cx="427.77" cy="88.75" r="1.2" fill="#141414"/>
<circle cx="427.77" cy="68.75" r="1.2" fill="#141414"/>
<circle cx="433.47" cy="77.5" r="1.2" fill="#141414"/>
<circle cx="457.6" cy="86.25" r="1.2" fill="#141414"/>
<circle cx="470.32" cy="90" r="1.2" fill="#141414"/>
<circle cx="488.96" cy="96.25" r="1.2" fill="#141414"/>
<text x="399.5" y="130" font-family='"Liberation Serif", serif' font-size="14.2" font-weight="normal" text-anchor="start" fill="#111" stroke="#111" stroke-width="0.25" textLength="91.75" lengthAdjust="spacingAndGlyphs">Study phase; dose</text>
<line x1="403.7" y1="143.2" x2="422.6" y2="143.2" stroke="#161616" stroke-width="2.0" stroke-dasharray="7.6,3.7" stroke-linecap="butt"/>
<text x="427.5" y="147" font-family='"Liberation Serif", serif' font-size="14.2" font-weight="normal" text-anchor="start" fill="#111" stroke="#111" stroke-width="0.25" textLength="51.25" lengthAdjust="spacingAndGlyphs">I; 400/800</text>
<line x1="400.6" y1="157.5" x2="422.6" y2="157.5" stroke="#b4b4b4" stroke-width="1.6" stroke-linecap="butt"/>
<text x="427.5" y="162" font-family='"Liberation Serif", serif' font-size="14.2" font-weight="normal" text-anchor="start" fill="#111" stroke="#111" stroke-width="0.25" textLength="58.25" lengthAdjust="spacingAndGlyphs">I; 800/1200</text>
<line x1="400.6" y1="174.5" x2="422.6" y2="174.5" stroke="#868686" stroke-width="1.4" stroke-dasharray="2.4,1.8" stroke-linecap="butt"/>
<text x="427.5" y="178" font-family='"Liberation Serif", serif' font-size="14.2" font-weight="normal" text-anchor="start" fill="#111" stroke="#111" stroke-width="0.25" textLength="64.5" lengthAdjust="spacingAndGlyphs">I; 1000/1000</text>
<line x1="400.6" y1="190.75" x2="422.6" y2="190.75" stroke="#505050" stroke-width="1.6" stroke-linecap="butt"/>
<text x="427.5" y="194.5" font-family='"Liberation Serif", serif' font-size="14.2" font-weight="normal" text-anchor="start" fill="#111" stroke="#111" stroke-width="0.25" textLength="64.5" lengthAdjust="spacingAndGlyphs">I; 1200/2000</text>
<line x1="400.6" y1="206.25" x2="422.6" y2="206.25" stroke="#141414" stroke-width="1.9" stroke-linecap="butt"/>
<text x="427.5" y="210" font-family='"Liberation Serif", serif' font-size="14.2" font-weight="normal" text-anchor="start" fill="#111" stroke="#111" stroke-width="0.25" textLength="68.75" lengthAdjust="spacingAndGlyphs">II; 1000/1000</text>
<text x="1.3" y="294.2" font-family='"Liberation Sans", sans-serif' font-size="23.2" font-weight="bold" text-anchor="start" fill="#000" stroke="#000" stroke-width="0.9" textLength="15.6" lengthAdjust="spacingAndGlyphs">B</text>
<g transform="translate(15.1,487.9) rotate(-90)" font-family='"Liberation Serif", serif' fill="#111" stroke="#111" stroke-width="0.25"><text x="0" y="0" font-size="15.7" textLength="160.6" lengthAdjust="spacingAndGlyphs">B-lymphocyte count x 10</text><text x="161.4" y="-5.9" font-size="10" textLength="5.4" lengthAdjust="spacingAndGlyphs">9</text><text x="167.4" y="0" font-size="15.7" textLength="8.4" lengthAdjust="spacingAndGlyphs">/l</text></g>
<line x1="59.199999999999996" y1="301.9" x2="59.199999999999996" y2="499.2" stroke="#111" stroke-width="1.9" stroke-linecap="butt"/>
<line x1="58.199999999999996" y1="498.2" x2="516.0" y2="498.2" stroke="#111" stroke-width="2.0" stroke-linecap="butt"/>
<line x1="53.4" y1="498.15" x2="59.3" y2="498.15" stroke="#111" stroke-width="1.5" stroke-linecap="butt"/>
<text x="50.4" y="503.45" font-family='"Liberation Serif", serif' font-size="15.4" font-weight="normal" text-anchor="end" fill="#111" stroke="#111" stroke-width="0.25">0</text>
<line x1="53.4" y1="465.59999999999997" x2="59.3" y2="465.59999999999997" stroke="#111" stroke-width="1.5" stroke-linecap="butt"/>
<text x="50.4" y="470.9" font-family='"Liberation Serif", serif' font-size="15.4" font-weight="normal" text-anchor="end" fill="#111" stroke="#111" stroke-width="0.25">20</text>
<line x1="53.4" y1="433.04999999999995" x2="59.3" y2="433.04999999999995" stroke="#111" stroke-width="1.5" stroke-linecap="butt"/>
<text x="50.4" y="438.34999999999997" font-family='"Liberation Serif", serif' font-size="15.4" font-weight="normal" text-anchor="end" fill="#111" stroke="#111" stroke-width="0.25">40</text>
<line x1="53.4" y1="400.5" x2="59.3" y2="400.5" stroke="#111" stroke-width="1.5" stroke-linecap="butt"/>
<text x="50.4" y="405.8" font-family='"Liberation Serif", serif' font-size="15.4" font-weight="normal" text-anchor="end" fill="#111" stroke="#111" stroke-width="0.25">60</text>
<line x1="53.4" y1="367.95" x2="59.3" y2="367.95" stroke="#111" stroke-width="1.5" stroke-linecap="butt"/>
<text x="50.4" y="373.25" font-family='"Liberation Serif", serif' font-size="15.4" font-weight="normal" text-anchor="end" fill="#111" stroke="#111" stroke-width="0.25">80</text>
<line x1="53.4" y1="335.4" x2="59.3" y2="335.4" stroke="#111" stroke-width="1.5" stroke-linecap="butt"/>
<text x="50.4" y="340.7" font-family='"Liberation Serif", serif' font-size="15.4" font-weight="normal" text-anchor="end" fill="#111" stroke="#111" stroke-width="0.25">100</text>
<line x1="53.4" y1="302.85" x2="59.3" y2="302.85" stroke="#111" stroke-width="1.5" stroke-linecap="butt"/>
<text x="50.4" y="308.15000000000003" font-family='"Liberation Serif", serif' font-size="15.4" font-weight="normal" text-anchor="end" fill="#111" stroke="#111" stroke-width="0.25">120</text>
<line x1="59.3" y1="498.2" x2="59.3" y2="504" stroke="#111" stroke-width="1.5" stroke-linecap="butt"/>
<line x1="124.44" y1="498.2" x2="124.44" y2="504" stroke="#111" stroke-width="1.5" stroke-linecap="butt"/>
<line x1="189.57999999999998" y1="498.2" x2="189.57999999999998" y2="504" stroke="#111" stroke-width="1.5" stroke-linecap="butt"/>
<line x1="254.72000000000003" y1="498.2" x2="254.72000000000003" y2="504" stroke="#111" stroke-width="1.5" stroke-linecap="butt"/>
<line x1="319.86" y1="498.2" x2="319.86" y2="504" stroke="#111" stroke-width="1.5" stroke-linecap="butt"/>
<line x1="385.0" y1="498.2" x2="385.0" y2="504" stroke="#111" stroke-width="1.5" stroke-linecap="butt"/>
<line x1="450.14000000000004" y1="498.2" x2="450.14000000000004" y2="504" stroke="#111" stroke-width="1.5" stroke-linecap="butt"/>
<line x1="515.28" y1="498.2" x2="515.28" y2="504" stroke="#111" stroke-width="1.5" stroke-linecap="butt"/>
<text x="57.2" y="518.5" font-family='"Liberation Serif", serif' font-size="15.8" font-weight="normal" text-anchor="start" fill="#111" stroke="#111" stroke-width="0.25" textLength="64" lengthAdjust="spacingAndGlyphs">Screening</text>
<text x="135.2" y="518.5" font-family='"Liberation Serif", serif' font-size="15.8" font-weight="normal" text-anchor="start" fill="#111" stroke="#111" stroke-width="0.25" textLength="38.2" lengthAdjust="spacingAndGlyphs">C1D8</text>
<text x="202.2" y="518.5" font-family='"Liberation Serif", serif' font-size="15.8" font-weight="normal" text-anchor="start" fill="#111" stroke="#111" stroke-width="0.25" textLength="35.8" lengthAdjust="spacingAndGlyphs">C3D1</text>
<text x="269.7" y="518.5" font-family='"Liberation Serif", serif' font-size="15.8" font-weight="normal" text-anchor="start" fill="#111" stroke="#111" stroke-width="0.25" textLength="36.3" lengthAdjust="spacingAndGlyphs">C5D1</text>
<text x="334.7" y="518.5" font-family='"Liberation Serif", serif' font-size="15.8" font-weight="normal" text-anchor="start" fill="#111" stroke="#111" stroke-width="0.25" textLength="36.3" lengthAdjust="spacingAndGlyphs">C7D1</text>
<text x="390.7" y="518.5" font-family='"Liberation Serif", serif' font-size="15.8" font-weight="normal" text-anchor="start" fill="#111" stroke="#111" stroke-width="0.25" textLength="53.2" lengthAdjust="spacingAndGlyphs">FU-D28</text>
<text x="454" y="518.5" font-family='"Liberation Serif", serif' font-size="15.8" font-weight="normal" text-anchor="start" fill="#111" stroke="#111" stroke-width="0.25" textLength="55" lengthAdjust="spacingAndGlyphs">FU-W12</text>
<text x="253.4" y="541.2" font-family='"Liberation Serif", serif' font-size="15.3" font-weight="normal" text-anchor="start" fill="#111" stroke="#111" stroke-width="0.25" textLength="65.2" lengthAdjust="spacingAndGlyphs">Time point</text>
<polyline points="91.5,317.0 156.3,495.2 162.3,496.8 422,496.8" fill="none" stroke="#0c0c0c" stroke-width="2.0" stroke-linejoin="round"/>
<polyline points="91.5,320.4 156.3,495.2 162.3,497.0 422,497.0" fill="none" stroke="#0c0c0c" stroke-width="1.7" stroke-dasharray="7,2.2" stroke-linejoin="round"/>
<polyline points="91.5,356.0 156.3,495.2 162.3,496.4 422,496.4" fill="none" stroke="#3c3c3c" stroke-width="1.8" stroke-linejoin="round"/>
<polyline points="91.5,358.6 156.3,495.2 162.3,496.6 422,496.6" fill="none" stroke="#3c3c3c" stroke-width="1.8" stroke-dasharray="7,2.2" stroke-linejoin="round"/>
<polyline points="91.5,376.0 156.3,495.2 162.3,496.5 422,496.5" fill="none" stroke="#4a4a4a" stroke-width="1.8" stroke-linejoin="round"/>
<polyline points="91.5,378.6 156.3,495.2 162.3,496.7 422,496.7" fill="none" stroke="#4a4a4a" stroke-width="1.7" stroke-dasharray="7,2.2" stroke-linejoin="round"/>
<polyline points="91.5,389.8 156.3,495.2 162.3,496.2 422,496.2" fill="none" stroke="#585858" stroke-width="1.5" stroke-linejoin="round"/>
<polyline points="91.5,409.6 156.3,495.2 162.3,495.6 422,495.6" fill="none" stroke="#777" stroke-width="1.7" stroke-dasharray="7,2.2" stroke-linejoin="round"/>
<polyline points="91.5,415.4 156.3,495.2 162.3,495.8 422,495.8" fill="none" stroke="#808080" stroke-width="1.5" stroke-linejoin="round"/>
<polyline points="91.5,426.0 156.3,495.2 162.3,495.2 422,495.2" fill="none" stroke="#9a9a9a" stroke-width="1.9" stroke-dasharray="7.5,2.4" stroke-linejoin="round"/>
<polyline points="91.5,428.2 156.3,495.2 162.3,495.4 422,495.4 483,495.6" fill="none" stroke="#b0b0b0" stroke-width="1.5" stroke-linejoin="round"/>
<polyline points="91.5,439.4 156.3,495.2 162.3,495.0 422,495.0" fill="none" stroke="#bdbdbd" stroke-width="1.6" stroke-linejoin="round"/>
<polyline points="91.5,451.0 156.3,495.2 162.3,494.8 422,494.8" fill="none" stroke="#d2d2d2" stroke-width="1.4" stroke-dasharray="7.5,3" stroke-linejoin="round"/>
<polyline points="91.5,457.0 156.3,495.2 162.3,496.0 422,496.0" fill="none" stroke="#6a6a6a" stroke-width="1.6" stroke-dasharray="7,2.2" stroke-linejoin="round"/>
<polyline points="91.5,460.6 156.3,495.2 162.3,496.3 422,496.3" fill="none" stroke="#5a5a5a" stroke-width="1.6" stroke-dasharray="7,2.2" stroke-linejoin="round"/>
<polyline points="91.5,488.2 156.3,495.2 162.3,495.3 422,495.3" fill="none" stroke="#a0a0a0" stroke-width="1.4" stroke-dasharray="7,2.2" stroke-linejoin="round"/>
<polyline points="91.5,489.2 156.3,495.2 162.3,496.9 422,496.9 483,497.0" fill="none" stroke="#333" stroke-width="1.8" stroke-linejoin="round"/>
<polyline points="91.5,496.3 156.3,495.2 162.3,497.1 422,497.1" fill="none" stroke="#444" stroke-width="1.5" stroke-dasharray="6,2" stroke-linejoin="round"/>
<line x1="158.3" y1="494.5" x2="422" y2="494.5" stroke="#b4b4b4" stroke-width="1.3" stroke-dasharray="7.5,3" stroke-linecap="butt"/>
<polyline points="422,496.2 427,496.0 483,491.7" fill="none" stroke="#383838" stroke-width="2.2" stroke-linejoin="round"/>
<line x1="422" y1="495.7" x2="483" y2="495.7" stroke="#c4c4c4" stroke-width="1.3" stroke-dasharray="7.5,3" stroke-linecap="butt"/>
</svg>
</body></html>
